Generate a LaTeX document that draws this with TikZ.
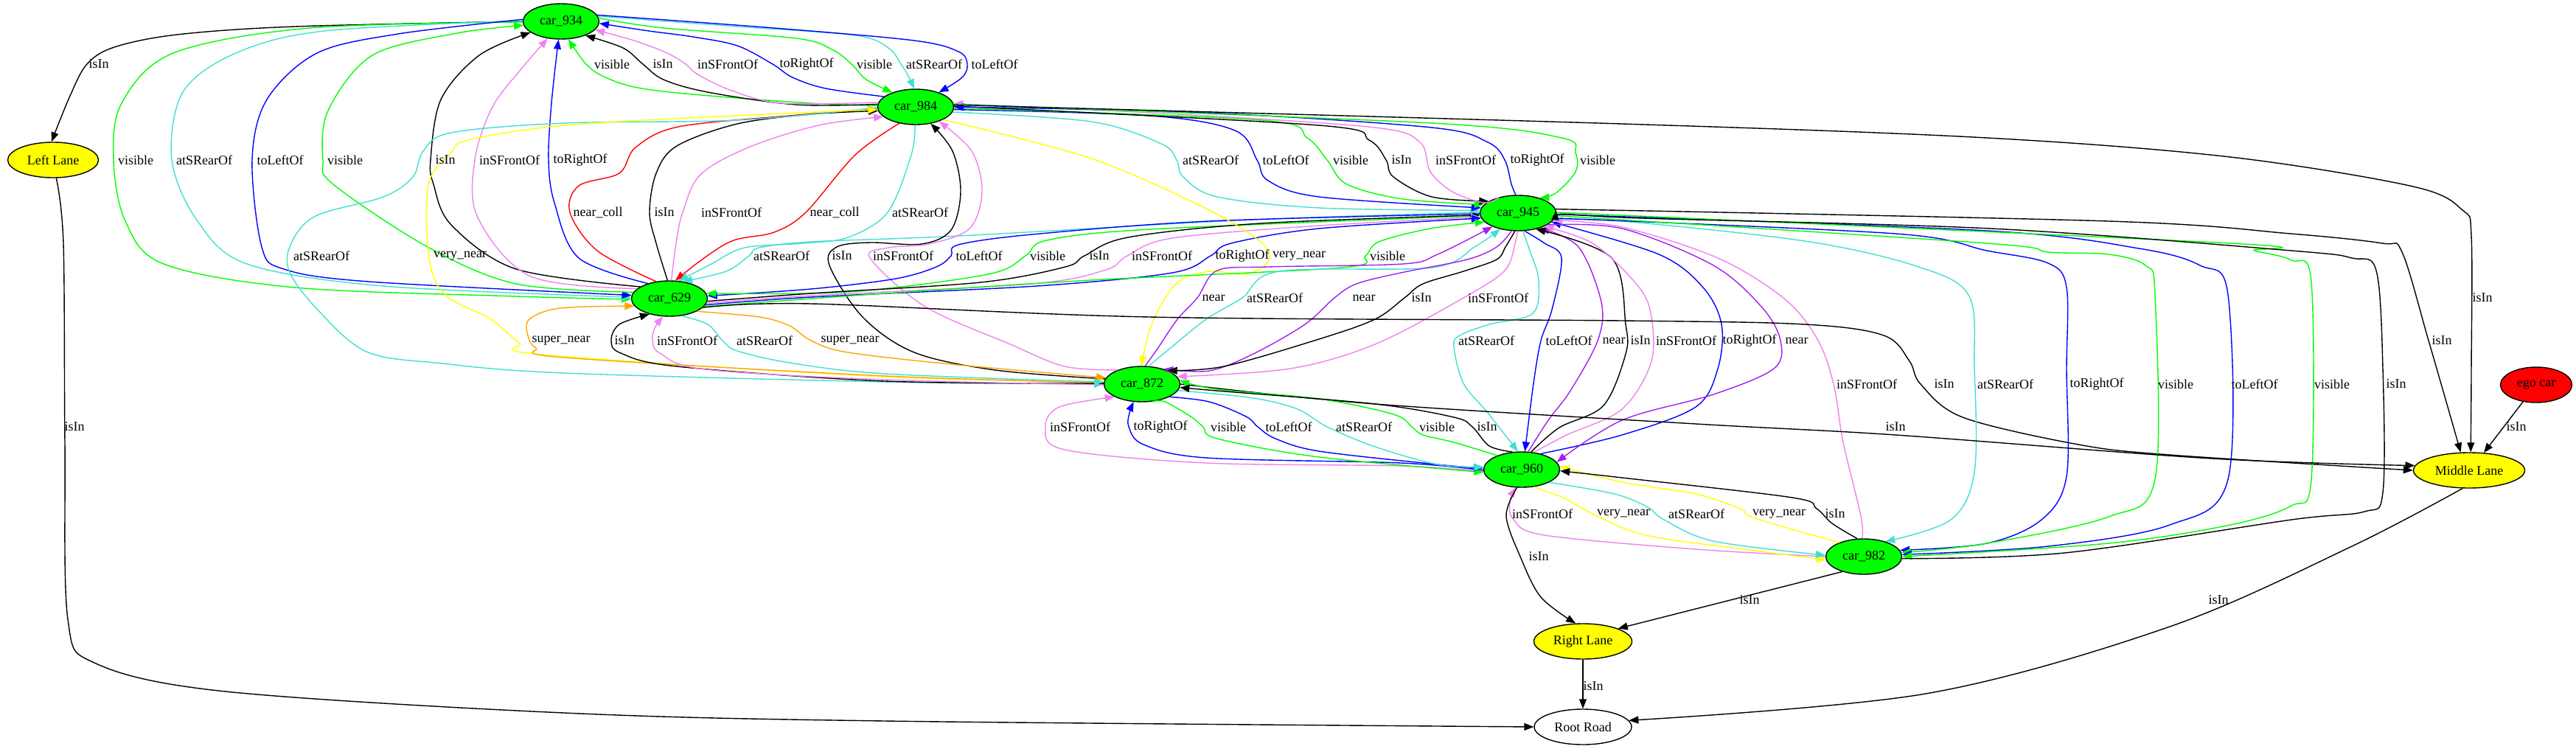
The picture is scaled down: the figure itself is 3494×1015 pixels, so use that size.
\documentclass[tikz,border=0pt]{standalone}
\usepackage{fontspec}
\setmainfont{Liberation Serif}
\usetikzlibrary{shapes.geometric,arrows.meta}
\definecolor{cgreen}{HTML}{00FF00}
\definecolor{cturq}{HTML}{40E0D0}
\definecolor{cviolet}{HTML}{EE82EE}
\definecolor{cpurple}{HTML}{A020F0}
\definecolor{corange}{HTML}{FFA500}
\definecolor{cblue}{HTML}{0000FF}
\definecolor{cred}{HTML}{FF0000}
\definecolor{cyellow}{HTML}{FFFF00}
\tikzset{
 edg/.style={line width=1.4pt, -{Triangle[length=13pt,width=10pt]}},
 lab/.style={inner sep=0pt, font=\fontsize{18}{20}\selectfont},
 nd/.style={ellipse, draw=black, line width=1.4pt, minimum height=48pt, inner sep=0pt, font=\fontsize{18}{20}\selectfont},
 car/.style={nd, fill=cgreen, minimum width=103pt},
 lane/.style={nd, fill=cyellow},
 road/.style={nd, fill=white},
 egocar/.style={nd, fill=cred, minimum width=97pt},
}
\newcommand\ed[2]{\draw[edg,#1] plot[smooth,tension=0.55] coordinates {#2};}
\newcommand\lb[4]{\node[lab] (#1) at (#2,#3) {#4};}
\begin{document}
\begin{tikzpicture}[x=1pt,y=-1pt]
\useasboundingbox (0,0) rectangle (3494,1015);
% nodes
\node[car] (n934) at (761,29) {car\_934};
\node[car] (n984) at (1242,145) {car\_984};
\node[car] (n945) at (2059,289) {car\_945};
\node[car] (n629) at (908,405) {car\_629};
\node[car] (n872) at (1549,521) {car\_872};
\node[car] (n960) at (2064,637) {car\_960};
\node[car] (n982) at (2528,755) {car\_982};
\node[lane, minimum width=123pt] (nLL) at (72,217) {Left Lane};
\node[lane, minimum width=151pt] (nML) at (3349,638) {Middle Lane};
\node[lane, minimum width=133pt] (nRL) at (2147,870) {Right Lane};
\node[road, minimum width=132pt] (nRR) at (2147,986) {Root Road};
\node[egocar] (nEgo) at (3440,522) {ego car};
% car_934 <-> car_984 and Left Lane
\ed{black}{(n934.180) (400,36) (240,47) (155,64) (118,87) (95,130) (nLL.95)}
\ed{cgreen}{(n984.178) (1100,140) (940,128) (860,118) (815,102) (795,87) (782,70) (n934.292)}
\ed{black}{(n984.176) (1080,142) (960,125) (900,108) (872,87) (845,65) (n934.330)}
\ed{cviolet}{(n984.173) (1060,140) (990,122) (945,100) (930,87) (905,72) (860,55) (n934.346)}
\ed{cblue}{(n984.162) (1120,120) (1075,105) (1048,87) (1000,62) (940,50) (880,42) (n934.357)}
\ed{cgreen}{(n934.5) (900,38) (1080,52) (1130,68) (1155,87) (1175,108) (n984.148)}
\ed{cturq}{(n934.8) (1000,36) (1160,48) (1205,65) (1222,87) (1232,103) (n984.95)}
\ed{cblue}{(n934.10) (1050,38) (1240,55) (1300,70) (1312,87) (1305,105) (n984.32)}
% car_934 <-> car_629
\ed{cgreen}{(n934.181) (420,38) (235,72) (165,140) (154,217) (170,300) (222,358) (400,390) (700,402) (n629.181)}
\ed{cturq}{(n934.179) (440,42) (320,72) (248,125) (233,217) (268,300) (335,358) (520,388) (n629.178)}
\ed{cblue}{(n934.177) (540,46) (430,72) (362,135) (342,217) (355,335) (385,365) (500,382) (n629.175)}
\ed{cgreen}{(n629.170) (700,385) (580,335) (452,250) (438,217) (445,150) (505,75) (620,45) (n934.186)}
\ed{black}{(n629.158) (700,365) (612,305) (588,250) (584,217) (598,135) (650,75) (n934.200)}
\ed{cviolet}{(n629.163) (720,375) (648,295) (644,217) (668,145) (710,90) (n934.232)}
\ed{cblue}{(n629.145) (785,350) (752,275) (744,217) (748,140) (n934.262)}
% car_629 <-> car_984
\ed{cred}{(n629.128) (810,340) (773,288) (785,252) (840,235) (862,200) (920,172) (1070,157) (n984.183)}
\ed{black}{(n629.96) (890,330) (881,288) (890,235) (918,198) (1000,168) (1100,155) (n984.186)}
\ed{cviolet}{(n629.84) (917,330) (926,288) (950,237) (1015,200) (1110,170) (n984.197)}
\ed{cred}{(n984.225) (1160,210) (1093,288) (1050,315) (995,326) (955,350) (n629.72)}
\ed{cturq}{(n984.268) (1236,210) (1204,288) (1150,322) (1090,330) (1010,336) (965,358) (n629.62)}
% middle band
\ed{cturq}{(n945.179) (1700,298) (1300,320) (1100,328) (1030,336) (1016,347) (985,368) (n629.52)}
\ed{black}{(n872.172) (1350,502) (1240,478) (1170,430) (1125,360) (1135,335) (1180,329) (1250,331) (1290,312) (1303,260) (1292,205) (n984.312)}
\ed{cviolet}{(n872.150) (1444,497) (1368,466) (1255,416) (1180,350) (1205,336) (1260,331) (1315,310) (1332,260) (1318,205) (n984.328)}
\ed{cblue}{(n945.181) (1640,300) (1400,318) (1300,332) (1290,347) (1270,362) (1215,378) (1100,392) (n629.4)}
\ed{cgreen}{(n945.184) (1560,311) (1420,326) (1391,347) (1340,372) (1150,396) (n629.8)}
\ed{black}{(n629.356) (1100,398) (1330,383) (1445,362) (1471,347) (1530,322) (1710,303) (n945.183)}
\ed{cviolet}{(n629.353) (1100,401) (1400,385) (1500,366) (1529,347) (1590,323) (1790,306) (n945.186)}
\ed{cblue}{(n629.350) (1100,403) (1406,388) (1590,370) (1642,347) (1670,330) (1789,310) (n945.188)}
\ed{cyellow}{(n984.335) (1480,215) (1640,285) (1712,330) (1720,355) (1690,372) (1640,368) (1595,385) (1562,440) (n872.92)}
\ed{cgreen}{(n629.347) (1200,398) (1480,380) (1820,363) (1852,347) (1870,328) (1940,310) (n945.195)}
% long left loops
\ed{cturq}{(n984.181) (1000,163) (765,167) (612,180) (574,205) (560,240) (520,267) (428,293) (395,330) (392,367) (428,417) (497,477) (600,493) (765,506) (1200,518) (n872.180)}
\ed{cyellow}{(n872.176) (1200,511) (735,481) (704,465) (666,433) (604,400) (582,350) (581,250) (612,207) (635,190) (765,170) (995,157) (n984.184)}
% car_984 <-> car_945
\ed{cturq}{(n984.352) (1480,165) (1575,195) (1596,217) (1605,240) (1651,267) (1790,282) (n945.176)}
\ed{cblue}{(n984.356) (1560,157) (1675,177) (1705,217) (1720,245) (1789,267) (n945.172)}
\ed{cgreen}{(n984.358) (1712,163) (1773,187) (1800,217) (1827,250) (1903,270) (n945.166)}
\ed{black}{(n984.1) (1789,170) (1857,190) (1880,217) (1890,240) (1942,267) (n945.158)}
\ed{cviolet}{(n945.140) (2013,275) (1970,260) (1940,233) (1926,193) (1865,173) (1600,155) (n984.5)}
\ed{cblue}{(n945.97) (2050,250) (2041,217) (2018,193) (1942,173) (1636,153) (n984.0)}
\ed{cgreen}{(n984.4) (1942,167) (2118,187) (2137,207) (2137,233) (2110,262) (n945.35)}
% car_872 <-> car_945
\ed{cpurple}{(n872.80) (1572,470) (1597,433) (1624,404) (1651,367) (1720,362) (1903,358) (1950,345) (n945.208)}
\ed{cturq}{(n872.70) (1590,470) (1636,433) (1685,404) (1735,368) (1942,363) (2000,335) (n945.222)}
\ed{cpurple}{(n945.250) (2030,335) (1990,352) (1900,370) (1840,385) (1810,404) (1770,440) (1700,480) (1640,503) (n872.35)}
\ed{black}{(n945.260) (2042,335) (2030,352) (1985,368) (1930,385) (1905,404) (1865,433) (1789,460) (1660,497) (n872.28)}
\ed{cviolet}{(n945.268) (2055,330) (2041,367) (1985,404) (1865,467) (1750,500) (n872.12)}
% car_945 <-> car_960
\ed{cturq}{(n945.285) (2075,340) (2087,380) (2079,425) (2020,440) (1980,455) (1972,470) (1985,520) (2018,560) (n960.102)}
\ed{cblue}{(n945.290) (2095,330) (2118,350) (2105,420) (2090,462) (2080,520) (n960.80)}
\ed{cpurple}{(n960.70) (2100,570) (2130,530) (2167,462) (2172,410) (2141,335) (n945.325)}
\ed{black}{(n960.62) (2115,580) (2175,550) (2205,480) (2205,440) (2186,350) (n945.318)}
\ed{cviolet}{(n960.55) (2125,590) (2200,555) (2240,490) (2238,420) (2215,380) (2160,330) (n945.333)}
\ed{cblue}{(n960.40) (2200,590) (2300,552) (2330,500) (2335,440) (2310,390) (2250,345) (n945.345)}
\ed{cpurple}{(n945.338) (2200,310) (2324,360) (2390,417) (2415,462) (2406,500) (2324,535) (2200,570) (n960.12)}
% car_945 <-> car_982 and lanes
\ed{cviolet}{(n982.95) (2524,700) (2500,600) (2487,521) (2465,460) (2420,405) (2330,350) (2200,308) (n945.348)}
\ed{black}{(n629.345) (1100,412) (1559,430) (2200,435) (2448,440) (2555,455) (2590,490) (2605,521) (2662,566) (2819,603) (2943,617) (nML.180)}
\ed{cturq}{(n945.350) (2200,300) (2448,327) (2596,360) (2670,400) (2678,500) (2678,640) (2646,705) (n982.35)}
\ed{cblue}{(n945.352) (2571,317) (2695,340) (2778,357) (2803,390) (2803,500) (2803,646) (2769,705) (2695,737) (n982.10)}
\ed{cgreen}{(n945.356) (2695,330) (2778,342) (2860,345) (2910,360) (2923,400) (2923,650) (2860,701) (2695,737) (n982.6)}
\ed{cblue}{(n945.358) (2695,313) (2901,337) (2984,360) (3022,400) (3022,650) (2943,712) (2778,741) (n982.3)}
\ed{cgreen}{(n945.1) (3025,330) (3058,340) (3108,353) (3135,383) (3135,650) (3108,686) (3025,712) (2860,737) (n982.0)}
\ed{black}{(n982.357) (2800,750) (3108,705) (3207,694) (3232,668) (3232,500) (3223,367) (3190,350) (3108,340) (2700,310) (2200,295) (n945.4)}
\ed{black}{(n945.6) (2860,300) (3107,317) (3231,330) (3258,342) (3294,462) (nML.115)}
\ed{black}{(n984.3) (2200,168) (2695,187) (3025,213) (3273,253) (3340,285) (3352,320) (3352,500) (nML.85)}
\ed{black}{(n872.0) (1865,548) (2300,575) (2571,590) (3000,622) (nML.175)}
\draw[edg] (nEgo.232) -- (nML.50);
% car_872 <-> car_960
\ed{cviolet}{(n960.183) (1900,632) (1636,628) (1444,610) (1418,579) (1437,552) (n872.205)}
\ed{cblue}{(n960.181) (1900,628) (1636,621) (1551,603) (1531,579) (1532,560) (n872.245)}
\ed{cgreen}{(n872.300) (1580,545) (1615,565) (1632,579) (1651,595) (1789,620) (n960.184)}
\ed{cblue}{(n872.335) (1640,545) (1690,565) (1706,579) (1730,595) (1789,612) (1950,630) (n960.178)}
\ed{cturq}{(n872.350) (1700,540) (1760,555) (1800,579) (1865,606) (1950,630) (n960.176)}
\ed{cgreen}{(n960.150) (1972,600) (1930,590) (1915,579) (1890,562) (1789,541) (1650,528) (n872.6)}
\ed{black}{(n960.118) (2020,605) (1997,579) (1972,566) (1865,548) (1650,530) (n872.355)}
% car_960 <-> car_982
\ed{cviolet}{(n982.180) (2300,745) (2095,726) (2053,705) (2048,680) (n960.252)}
\ed{cyellow}{(n960.305) (2120,675) (2160,697) (2232,726) (2365,745) (n982.185)}
\ed{cturq}{(n960.335) (2190,670) (2235,688) (2257,705) (2324,734) (n982.178)}
\ed{cyellow}{(n982.150) (2420,715) (2373,700) (2360,690) (2300,670) (2200,654) (n960.5)}
\ed{black}{(n982.110) (2485,710) (2464,690) (2431,675) (2200,648) (n960.358)}
% lanes and road
\ed{black}{(n960.255) (2043,700) (2062,755) (2090,810) (nRL.112)}
\draw[edg] (n982.215) -- (nRL.20);
\draw[edg] (nRL.south) -- (nRR.north);
\ed{black}{(nML.250) (3190,741) (2943,850) (2612,941) (nRR.8)}
\ed{black}{(nLL.280) (86,330) (88,600) (92,840) (130,900) (306,938) (765,967) (1200,978) (nRR.180)}
% car_629 <-> car_872
\ed{corange}{(n872.178) (1200,510) (765,485) (727,472) (716,455) (718,433) (760,418) (n629.192)}
\ed{black}{(n872.179) (1200,517) (918,497) (842,479) (829,462) (840,440) (n629.218)}
\ed{cviolet}{(n872.181) (1200,515) (956,501) (895,479) (885,462) (888,445) (n629.250)}
\ed{cturq}{(n629.305) (960,440) (980,462) (1000,476) (1071,492) (1200,507) (n872.177)}
\ed{corange}{(n629.335) (1030,430) (1071,442) (1100,462) (1150,478) (1300,495) (n872.170)}
% labels
\lb{l1}{134}{87}{isIn}
\lb{l2}{830}{87}{visible}
\lb{l3}{899}{87}{isIn}
\lb{l4}{987}{87}{inSFrontOf}
\lb{l5}{1094}{87}{toRightOf}
\lb{l6}{1186}{87}{visible}
\lb{l7}{1267}{87}{atSRearOf}
\lb{l8}{1349}{87}{toLeftOf}
\lb{l9}{184}{217}{visible}
\lb{l10}{277}{217}{atSRearOf}
\lb{l11}{380}{217}{toLeftOf}
\lb{l12}{468}{217}{visible}
\lb{l13}{604}{217}{isIn}
\lb{l14}{691}{217}{inSFrontOf}
\lb{l15}{787}{217}{toRightOf}
\lb{l16}{1642}{217}{atSRearOf}
\lb{l17}{1744}{217}{toLeftOf}
\lb{l18}{1832}{217}{visible}
\lb{l19}{1901}{217}{isIn}
\lb{l20}{1988}{217}{inSFrontOf}
\lb{l21}{2085}{217}{toRightOf}
\lb{l22}{2167}{217}{visible}
\lb{l23}{811}{288}{near\_coll}
\lb{l24}{901}{288}{isIn}
\lb{l25}{992}{288}{inSFrontOf}
\lb{l26}{1132}{288}{near\_coll}
\lb{l27}{1248}{288}{atSRearOf}
\lb{l28}{436}{347}{atSRearOf}
\lb{l29}{624}{347}{very\_near}
\lb{l30}{1060}{347}{atSRearOf}
\lb{l31}{1142}{347}{isIn}
\lb{l32}{1225}{347}{inSFrontOf}
\lb{l33}{1328}{347}{toLeftOf}
\lb{l34}{1421}{347}{visible}
\lb{l35}{1491}{347}{isIn}
\lb{l36}{1576}{347}{inSFrontOf}
\lb{l37}{1685}{347}{toRightOf}
\lb{l38}{1762}{347}{very\_near}
\lb{l39}{1882}{347}{visible}
\lb{l40}{1646}{404}{near}
\lb{l41}{1729}{404}{atSRearOf}
\lb{l42}{1850}{404}{near}
\lb{l43}{1928}{404}{isIn}
\lb{l44}{2032}{404}{inSFrontOf}
\lb{l45}{3367}{404}{isIn}
\lb{l46}{761}{462}{super\_near}
\lb{l47}{847}{462}{isIn}
\lb{l48}{932}{462}{inSFrontOf}
\lb{l49}{1037}{462}{atSRearOf}
\lb{l50}{1153}{462}{super\_near}
\lb{l51}{2016}{462}{atSRearOf}
\lb{l52}{2128}{462}{toLeftOf}
\lb{l53}{2189}{462}{near}
\lb{l54}{2225}{462}{isIn}
\lb{l55}{2287}{462}{inSFrontOf}
\lb{l56}{2373}{462}{toRightOf}
\lb{l57}{2437}{462}{near}
\lb{l58}{3312}{462}{isIn}
\lb{l59}{2532}{521}{inSFrontOf}
\lb{l60}{2637}{521}{isIn}
\lb{l61}{2720}{521}{atSRearOf}
\lb{l62}{2844}{521}{toRightOf}
\lb{l63}{2951}{521}{visible}
\lb{l64}{3058}{521}{toLeftOf}
\lb{l65}{3163}{521}{visible}
\lb{l66}{3250}{521}{isIn}
\lb{l67}{1465}{579}{inSFrontOf}
\lb{l68}{1574}{579}{toRightOf}
\lb{l69}{1666}{579}{visible}
\lb{l70}{1748}{579}{toLeftOf}
\lb{l71}{1850}{579}{atSRearOf}
\lb{l72}{1949}{579}{visible}
\lb{l73}{2017}{579}{isIn}
\lb{l74}{2571}{579}{isIn}
\lb{l75}{3413}{579}{isIn}
\lb{l76}{101}{579}{isIn}
\lb{l77}{2092}{697}{inSFrontOf}
\lb{l78}{2202}{697}{very\_near}
\lb{l79}{2301}{697}{atSRearOf}
\lb{l80}{2413}{697}{very\_near}
\lb{l81}{2489}{697}{isIn}
\lb{l82}{2087}{755}{isIn}
\lb{l83}{2373}{814}{isIn}
\lb{l84}{3009}{814}{isIn}
\lb{l85}{2161}{931}{isIn}
\end{tikzpicture}
\end{document}
